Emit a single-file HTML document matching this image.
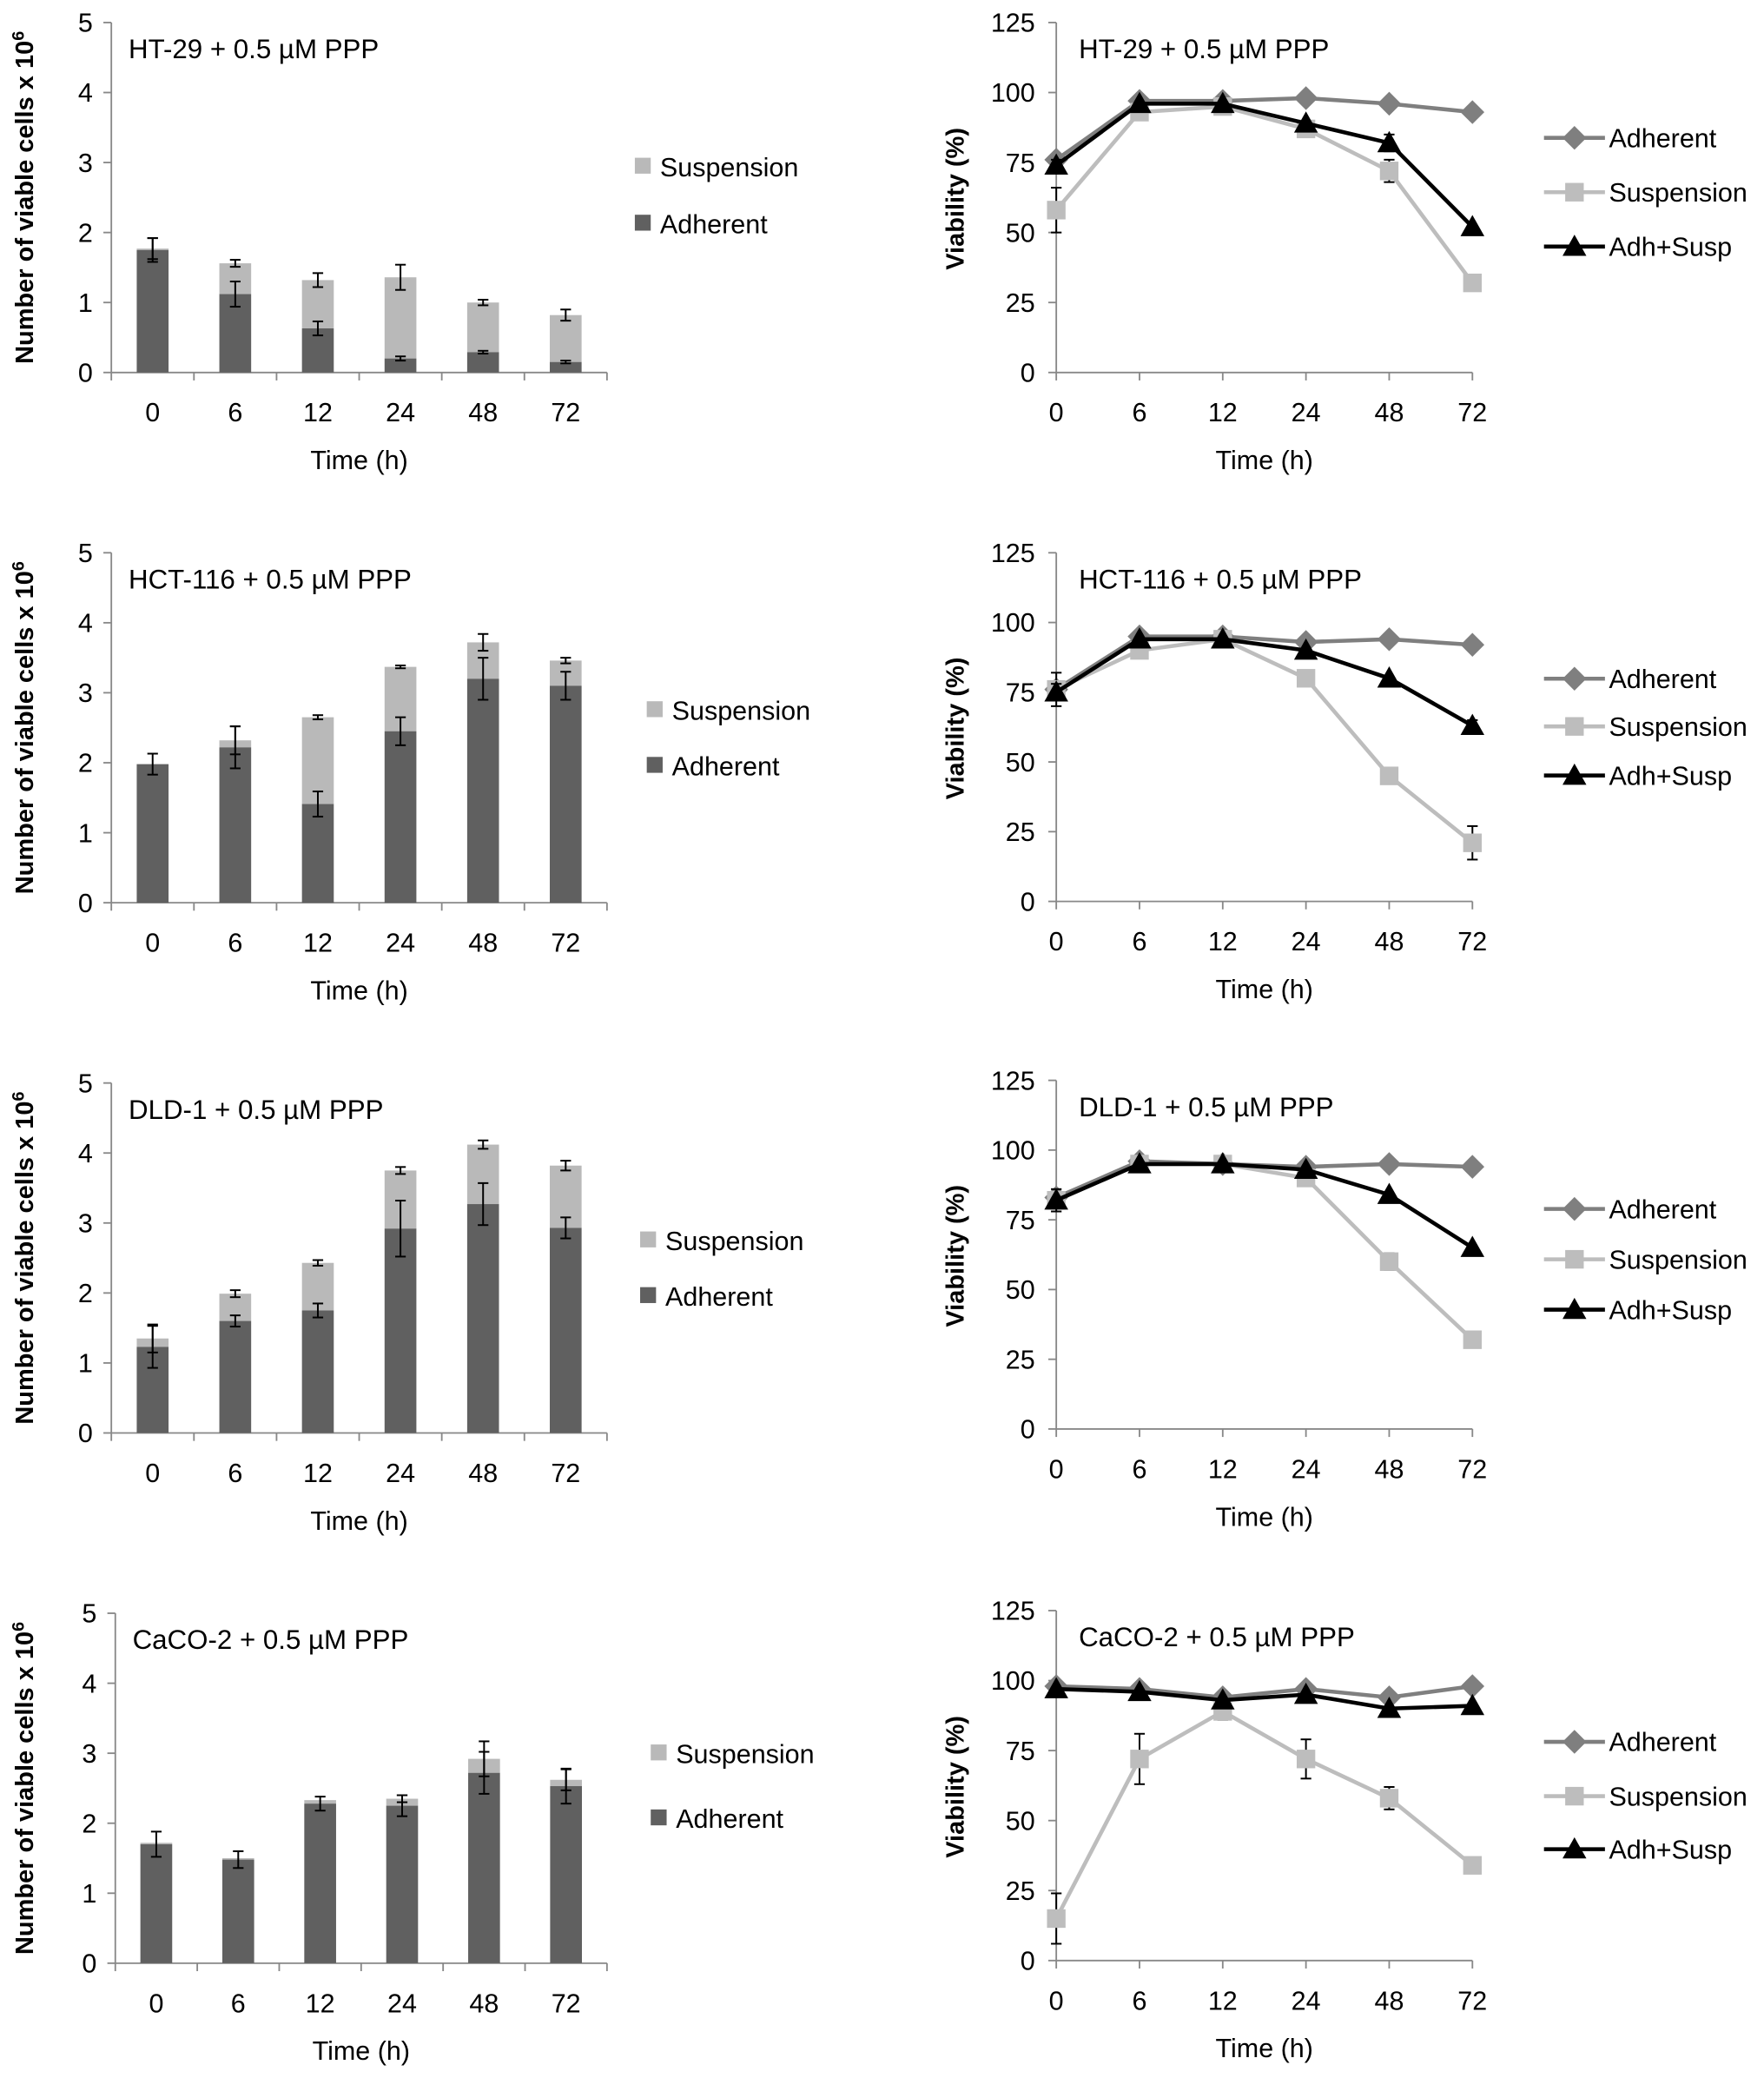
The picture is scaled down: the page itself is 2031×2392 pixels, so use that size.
<!DOCTYPE html>
<html><head><meta charset="utf-8"><style>
html,body{margin:0;padding:0;background:#fff}
svg{display:block}
text{font-family:"Liberation Sans Narrow","Liberation Sans",sans-serif;fill:#000}
</style></head><body>
<svg id="fig" width="2031" height="2392" viewBox="0 0 1331 1567.6" xmlns="http://www.w3.org/2000/svg"></svg>
<script>
// ---- data ----
const categories = ["0","6","12","24","48","72"];
const panelTitles = ["HT-29 + 0.5 µM PPP","HCT-116 + 0.5 µM PPP","DLD-1 + 0.5 µM PPP","CaCO-2 + 0.5 µM PPP"];
const barTicks = [0,1,2,3,4,5];
const vTicks = [0,25,50,75,100,125];
const adhCells = [[1.75,1.12,0.63,0.2,0.29,0.15],[1.98,2.22,1.41,2.45,3.2,3.1],[1.23,1.6,1.75,2.92,3.27,2.93],[1.7,1.48,2.28,2.25,2.72,2.53]];
const totCells = [[1.77,1.56,1.32,1.36,1.0,0.82],[1.98,2.32,2.65,3.37,3.72,3.46],[1.35,1.99,2.43,3.75,4.12,3.82],[1.72,1.5,2.33,2.35,2.92,2.62]];
const adhErr = [[0.17,0.18,0.1,0.03,0.02,0.02],[0.15,0.3,0.18,0.2,0.3,0.2],[0.3,0.08,0.1,0.4,0.3,0.15],[0.18,0.12,0.1,0.15,0.3,0.25]];
const totErr = [[0.15,0.05,0.1,0.18,0.04,0.08],[0,0.2,0.03,0.02,0.12,0.04],[0.2,0.05,0.04,0.05,0.06,0.07],[0,0,0,0.05,0.25,0.15]];
const vAdh = [[76,97,97,98,96,93],[76,95,95,93,94,92],[83,96,95,94,95,94],[98,97,94,97,94,98]];
const vSusp = [[58,93,95,87,72,32],[76,90,94,80,45,21],[82,95,95,90,60,32],[15,72,89,72,58,34]];
const vBoth = [[74,96,96,89,82,52],[75,94,94,90,80,63],[82,95,95,93,84,65],[97,96,93,95,90,91]];
const vSuspErr = [[8,2,2,2,4,1],[6,1,1,1,1,6],[2,1,1,1,3,1],[9,9,3,7,4,2]];
const vBothErr = [[2,1,1,1,3,1],[3,1,1,1,1,2],[4,1,1,1,1,1],[1,1,1,1,1,1]];

const rows = [{t:17,b:281},{t:417,b:681},{t:817,b:1081},{t:1217,b:1481}];
const svg = document.getElementById('fig');
const NS = "http://www.w3.org/2000/svg";
function mk(tag, attrs, parent){const e=document.createElementNS(NS,tag);for(const k in attrs)e.setAttribute(k,attrs[k]);(parent||svg).appendChild(e);return e;}
function txt(s, attrs, parent){const e=mk('text',attrs,parent);e.textContent=s;return e;}
function errbar(g,x,y1,y2){mk('line',{x1:x,y1:y1,x2:x,y2:y2,stroke:'#000','stroke-width':1.3},g);mk('line',{x1:x-4,y1:y1,x2:x+4,y2:y1,stroke:'#000','stroke-width':1.3},g);mk('line',{x1:x-4,y1:y2,x2:x+4,y2:y2,stroke:'#000','stroke-width':1.3},g);}

rows.forEach((r,i)=>{
  const g = mk('g',{});
  
  
  const ax0 = i===3?87:84, ax1 = 458;
  const yS = v => r.b - (v/5)*(r.b-r.t);
  const bw = (ax1-ax0)/6;
  const xS = k => ax0 + bw*(k+0.5);
  mk('line',{x1:ax0,y1:r.t,x2:ax0,y2:r.b,stroke:'#888','stroke-width':1.2},g);
  mk('line',{x1:ax0,y1:r.b,x2:ax1,y2:r.b,stroke:'#888','stroke-width':1.2},g);
  barTicks.forEach(t=>{mk('line',{x1:ax0-6,y1:yS(t),x2:ax0,y2:yS(t),stroke:'#888','stroke-width':1.2},g);
    txt(String(t),{x:ax0-14,y:yS(t)+7,'font-size':20,'text-anchor':'end'},g);});
  for(let k=0;k<=6;k++) mk('line',{x1:ax0+bw*k,y1:r.b,x2:ax0+bw*k,y2:r.b+6,stroke:'#888','stroke-width':1.2},g);
  categories.forEach((c,k)=>{
    txt(c,{x:xS(k),y:r.b+37,'font-size':20,'text-anchor':'middle'},g);
    const a=adhCells[i][k], t=totCells[i][k];
    const s=mk('rect',{x:xS(k)-12,y:yS(t),width:24,height:yS(a)-yS(t),fill:'#b9b9b9'},g);
    
    
    const b=mk('rect',{x:xS(k)-12,y:yS(a),width:24,height:r.b-yS(a),fill:'#606060'},g);
    
    
    if(adhErr[i][k]>0) errbar(g,xS(k),yS(a+adhErr[i][k]),yS(a-adhErr[i][k]));
    if(totErr[i][k]>0 && t-a>0.02) errbar(g,xS(k),yS(t+totErr[i][k]),yS(t-totErr[i][k]));
  });
  txt(panelTitles[i],{x:ax0+13,y:r.t+27,'font-size':20.5},g);
  txt('Time (h)',{x:(ax0+ax1)/2,y:r.b+73,'font-size':20,'text-anchor':'middle'},g);
  const yt=txt('',{transform:`translate(25,${(r.t+r.b)/2}) rotate(-90)`,'font-size':19,'text-anchor':'middle','font-weight':'bold'},g);
  yt.innerHTML='Number of viable cells x 10<tspan dy="-7" font-size="13">6</tspan>';
  const legX=[485,494,489,497][i], legY=[[126,169],[536,578],[936,978],[1323,1372]][i];
  [['Suspension','#b9b9b9'],['Adherent','#606060']].forEach((L,j)=>{
    mk('rect',{x:legX-6,y:legY[j]-7,width:12,height:12,fill:L[1]},g);
    txt(L[0],{x:legX+13,y:legY[j]+7,'font-size':20},g);
  });

  const h = mk('g',{});
  
  
  const vr = [{t:17,b:281},{t:417,b:680},{t:815,b:1078},{t:1215,b:1479}][i];
  const bx0=797, bx1=1111;
  const vy = v => vr.b - (v/125)*(vr.b-vr.t);
  const vx = k => bx0 + (bx1-bx0)/5*k;
  mk('line',{x1:bx0,y1:vr.t,x2:bx0,y2:vr.b,stroke:'#888','stroke-width':1.2},h);
  mk('line',{x1:bx0,y1:vr.b,x2:bx1,y2:vr.b,stroke:'#888','stroke-width':1.2},h);
  vTicks.forEach(t=>{mk('line',{x1:bx0-6,y1:vy(t),x2:bx0,y2:vy(t),stroke:'#888','stroke-width':1.2},h);
    txt(String(t),{x:bx0-16,y:vy(t)+7,'font-size':20,'text-anchor':'end'},h);});
  categories.forEach((c,k)=>{mk('line',{x1:vx(k),y1:vr.b,x2:vx(k),y2:vr.b+6,stroke:'#888','stroke-width':1.2},h);
    txt(c,{x:vx(k),y:vr.b+37,'font-size':20,'text-anchor':'middle'},h);});
  txt(panelTitles[i],{x:bx0+17,y:vr.t+27,'font-size':20.5},h);
  txt('Time (h)',{x:954,y:vr.b+73,'font-size':20,'text-anchor':'middle'},h);
  txt('Viability (%)',{transform:`translate(727,${(vr.t+vr.b)/2+1}) rotate(-90)`,'font-size':19,'text-anchor':'middle','font-weight':'bold'},h);
  const series=[[vAdh[i],'#7f7f7f','diamond','adherent',null],[vSusp[i],'#bdbdbd','square','suspension',vSuspErr[i]],[vBoth[i],'#000','triangle','adh-susp',vBothErr[i]]];
  function marker(par,type,x,y,col){
    if(type==='diamond') return mk('polygon',{points:`${x},${y-9} ${x+9},${y} ${x},${y+9} ${x-9},${y}`,fill:col},par);
    if(type==='square') return mk('rect',{x:x-7,y:y-7,width:14,height:14,fill:col},par);
    return mk('polygon',{points:`${x},${y-9} ${x+9},${y+7} ${x-9},${y+7}`,fill:col},par);
  }
  series.forEach(S=>{
    const sg=mk('g',{},h);
    
    
    if(S[4]) S[0].forEach((v,k)=>{if(S[4][k]>1) errbar(sg,vx(k),vy(v+S[4][k]),vy(v-S[4][k]));});
    mk('polyline',{points:S[0].map((v,k)=>vx(k)+','+vy(v)).join(' '),fill:'none',stroke:S[1],'stroke-width':3},sg);
    S[0].forEach((v,k)=>{const m=marker(sg,S[2],vx(k),vy(v),S[1]);
      
      });
  });
  const ly=[[104,145,186],[512,548,585],[912,950,988],[1314,1355,1395]][i];
  series.forEach((S,j)=>{
    const lg=mk('g',{},h);
    
    
    mk('line',{x1:1165,y1:ly[j],x2:1211,y2:ly[j],stroke:S[1],'stroke-width':3},lg);
    marker(lg,S[2],1188,ly[j],S[1]);
    txt(['Adherent','Suspension','Adh+Susp'][j],{x:1214,y:ly[j]+7,'font-size':20},lg);
  });
});
</script>
</body></html>
